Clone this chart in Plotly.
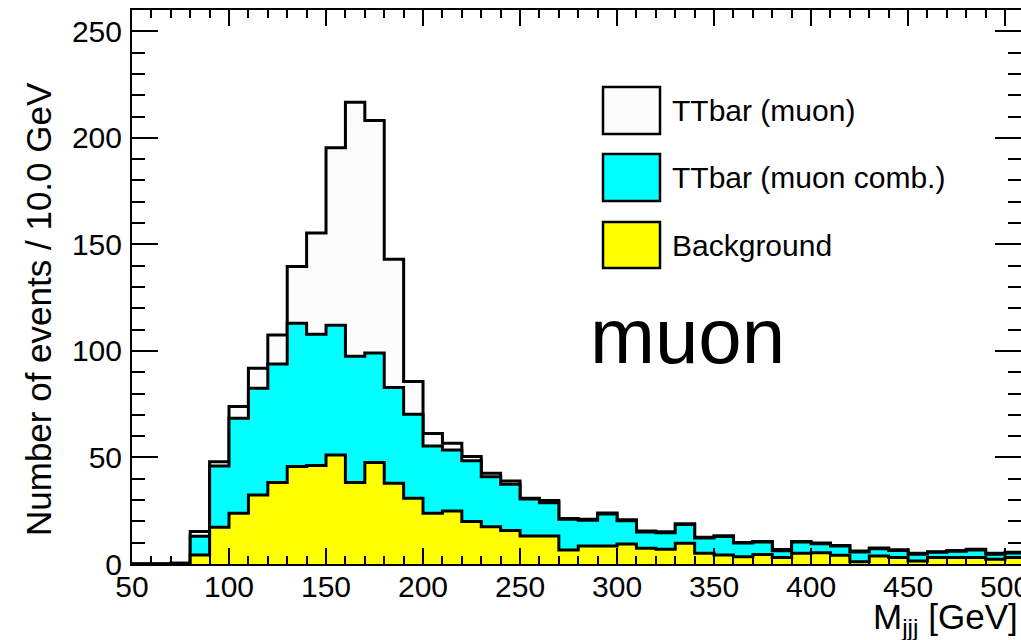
import plotly.graph_objects as go
import numpy as np

# bin lower edges (GeV), 10 GeV bins
bin_low = [50, 60, 70, 80, 90, 100, 110, 120, 130, 140, 150, 160, 170, 180, 190,
           200, 210, 220, 230, 240, 250, 260, 270, 280, 290, 300, 310, 320, 330, 340,
           350, 360, 370, 380, 390, 400, 410, 420, 430, 440, 450, 460, 470, 480, 490, 500]
bin_width = 10

background = [0, 0, 0, 4.2, 17.2, 23.8, 32.4, 38.3, 45.7, 46.2, 51.2, 38.3, 47.6, 37.9, 30.8,
              23.8, 24.9, 19.9, 17.5, 15.7, 13.1, 13.1, 6.6, 8.5, 8.5, 9.4, 7.4, 6.9, 9.7, 5.0,
              4.2, 3.4, 4.5, 3.1, 5.0, 5.3, 4.1, 1.1, 3.8, 3.1, 1.4, 3.1, 3.1, 3.1, 2.2, 3.1]
ttbar_comb = [0, 0, 0.3, 8.8, 28.8, 44.6, 50.1, 55.6, 67.3, 61.6, 60.8, 59.2, 51.4, 44.9, 39.5,
              31.6, 28.6, 28.6, 23.5, 21.7, 17.4, 15.7, 14.4, 12.0, 15.0, 10.9, 7.6, 7.8, 8.8, 7.2,
              8.7, 6.4, 5.8, 3.1, 5.3, 4.2, 4.3, 4.5, 3.4, 3.2, 3.2, 2.4, 2.9, 3.5, 2.4, 2.1]
ttbar_muon = [0, 0, 0.1, 2.2, 2.0, 5.5, 9.4, 13.6, 26.6, 47.5, 83.4, 119.2, 109.1, 60.2, 15.3,
              5.9, 3.2, 1.9, 1.6, 1.6, 0.4, 1.0, 0.4, 0.5, 0.4, 0.5, 0.5, 0.4, 0.4, 0.4,
              0.3, 0.3, 0.3, 0.6, 0.3, 0.3, 0.3, 0.5, 0.3, 0.4, 0.4, 0.3, 0.3, 0.3, 0.4, 0.3]

legend_labels = ["TTbar (muon)", "TTbar (muon comb.)", "Background"]
fill_colors = ["#fcfcfc", "#00ffff", "#ffff00"]

x_ticks = [50, 100, 150, 200, 250, 300, 350, 400, 450, 500]
y_ticks = [0, 50, 100, 150, 200, 250]

bg = np.array(background)
comb_top = bg + np.array(ttbar_comb)
total_top = comb_top + np.array(ttbar_muon)

edges = list(bin_low) + [bin_low[-1] + bin_width]

fig = go.Figure()
for vals, col, name in [(total_top, fill_colors[0], legend_labels[0]),
                        (comb_top, fill_colors[1], legend_labels[1]),
                        (bg, fill_colors[2], legend_labels[2])]:
    yv = list(vals) + [vals[-1]]
    fig.add_trace(go.Scatter(x=edges, y=yv, mode="lines", line_shape="hv",
                             line=dict(color="black", width=3),
                             fill="tozeroy", fillcolor=col, name=name,
                             showlegend=False, hoverinfo="skip"))

W, H = 1021, 640
L, R, T, B = 132, 0, 10, 76
pw, ph = W - L - R, H - T - B


def px(x):
    return (x - L) / pw


def py(y):
    return (H - B - y) / ph


FONT = "Liberation Sans, Arial, Helvetica, sans-serif"

fig.update_layout(
    width=W, height=H,
    margin=dict(l=L, r=R, t=T, b=B, pad=0),
    paper_bgcolor="white", plot_bgcolor="white",
    font=dict(family=FONT, color="black", size=30),
    xaxis=dict(range=[50, 508.2], tickvals=x_ticks, ticktext=[str(v) for v in x_ticks],
               ticks="inside", ticklen=16, tickwidth=2, tickcolor="black",
               minor=dict(dtick=10, tick0=50, ticks="inside", ticklen=8, tickwidth=2, tickcolor="black"),
               showline=True, linewidth=2, linecolor="black", mirror="allticks",
               showgrid=False, zeroline=False, tickfont=dict(size=30, family=FONT),
               ticklabelstandoff=-5, ticklabeloverflow="allow", automargin=False),
    yaxis=dict(range=[0, 260], tickvals=y_ticks, ticktext=[str(v) for v in y_ticks],
               ticks="inside", ticklen=26, tickwidth=2, tickcolor="black",
               minor=dict(dtick=10, tick0=0, ticks="inside", ticklen=13, tickwidth=2, tickcolor="black"),
               showline=True, linewidth=2, linecolor="black", mirror="allticks",
               showgrid=False, zeroline=False, tickfont=dict(size=30, family=FONT),
               ticklabelstandoff=2, ticklabeloverflow="allow", automargin=False),
)

# legend (boxes + labels)
rows = [(87, 134), (154, 201), (222, 268)]
for (y0, y1), col, lab in zip(rows, fill_colors, legend_labels):
    fig.add_shape(type="rect", xref="paper", yref="paper",
                  x0=px(603), x1=px(660), y0=py(y1), y1=py(y0),
                  line=dict(color="black", width=2.5), fillcolor=col)
    fig.add_annotation(xref="paper", yref="paper", x=px(670), y=py((y0 + y1) / 2),
                       text=lab, showarrow=False, xanchor="left", yanchor="middle",
                       font=dict(size=30, family=FONT))

# big "muon" label
fig.add_annotation(xref="paper", yref="paper", x=px(588), y=py(336), text="muon",
                   showarrow=False, xanchor="left", yanchor="middle",
                   font=dict(size=78, family=FONT))

# axis titles
fig.add_annotation(xref="paper", yref="paper", x=px(1020), y=py(619),
                   text="M<sub>jjj</sub> [GeV]", showarrow=False,
                   xanchor="right", yanchor="middle", font=dict(size=35, family=FONT))
fig.add_annotation(xref="paper", yref="paper", x=px(38), y=py(80),
                   text="Number of events / 10.0 GeV", showarrow=False, textangle=-90,
                   xanchor="center", yanchor="top", font=dict(size=35, family=FONT))

fig.write_html("out.html", config={"displayModeBar": False},
               post_script="document.body.style.margin='0px';document.body.style.overflow='hidden';")
